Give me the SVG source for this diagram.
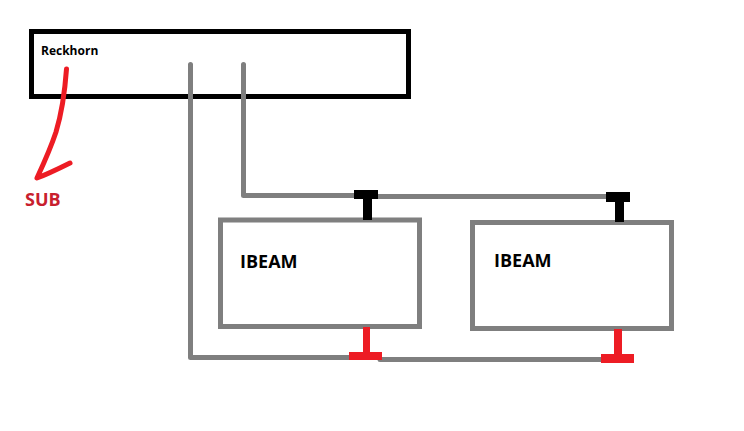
<svg xmlns="http://www.w3.org/2000/svg" width="744" height="431" viewBox="0 0 744 431">
<style>
.box{fill:none;stroke:#7f7f7f;stroke-width:5}
.wire{fill:none;stroke:#7f7f7f;stroke-width:5;stroke-linecap:round;stroke-linejoin:round}
.blk{fill:#000}
.red{fill:#ed1c24}
text{font-family:"Open Sans","Noto Sans","Liberation Sans",sans-serif;font-weight:700}
</style>
<rect width="744" height="431" fill="#fff"/>
<g id="reckhorn">
<rect x="31.500" y="31.500" width="377" height="65" fill="none" stroke="#000" stroke-width="5"/>
<text x="41" y="55" font-size="12" fill="#000">Reckhorn</text>
</g>
<g id="ibeam1">
<rect x="220.500" y="220" width="199" height="106.500" class="box"/>
<text x="240" y="268" font-size="18" fill="#000">IBEAM</text>
</g>
<g id="ibeam2">
<rect x="472.500" y="222.500" width="199" height="106" class="box"/>
<text x="494" y="267" font-size="18" fill="#000">IBEAM</text>
</g>
<g id="connectors">
<path class="wire" d="M190.500 64.500V357.500H350"/>
<path class="wire" d="M243.500 64.500V195.500H355"/>
<path class="wire" d="M376 196.500H607"/>
<path class="wire" d="M380 359.500H602"/>
<path fill="none" stroke="#ed1c24" stroke-width="5" stroke-linecap="round" stroke-linejoin="round" d="M66.500 69C65 90 62 112 56 132C50 150 43 165 37 178C48 174 60 168 70 163"/>
</g>
<g id="speakon-top-1">
<path class="blk" d="M354 190H378V199H372V220H363V199H354Z"/>
</g>
<g id="speakon-top-2">
<path class="blk" d="M606 192H630V202H624V222H615V202H606Z"/>
</g>
<g id="speakon-bottom-1">
<path class="red" d="M363 327H370V352H382V360H349V352H363Z"/>
</g>
<g id="speakon-bottom-2">
<path class="red" d="M614 329H622V354H634V363H601V354H614Z"/>
</g>
<g id="sub-label">
<text x="25" y="206" font-size="18" fill="#c8202e">SUB</text>
</g>
</svg>
